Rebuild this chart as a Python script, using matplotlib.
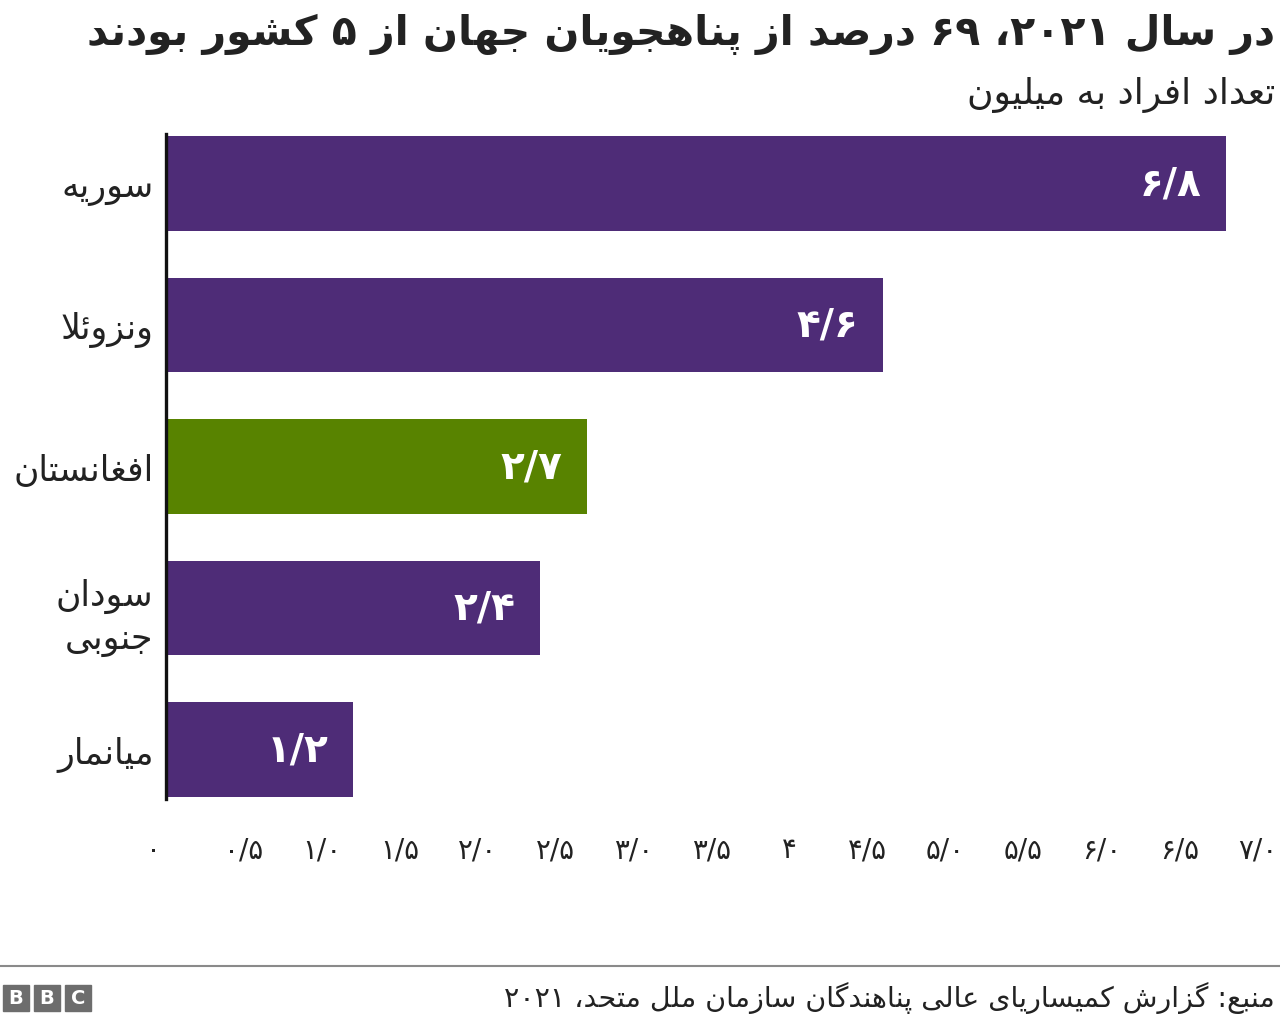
import re

import matplotlib
matplotlib.use('Agg')
import matplotlib.pyplot as plt
from matplotlib.lines import Line2D
from matplotlib.patches import Rectangle
from matplotlib.transforms import ScaledTranslation

# --- data -------------------------------------------------------------------
countries = ['سوریه', 'ونزوئلا', 'افغانستان', 'سودان\nجنوبی', 'میانمار']
refugees_m = [6.8, 4.6, 2.7, 2.4, 1.2]
value_labels = ['۶/۸', '۴/۶', '۲/۷', '۲/۴', '۱/۲']
highlight = 'افغانستان'

x_ticks = [0, 0.5, 1.0, 1.5, 2.0, 2.5, 3.0, 3.5, 4.0, 4.5, 5.0, 5.5, 6.0, 6.5, 7.0]
x_tick_labels = ['۰', '۰/۵', '۱/۰', '۱/۵', '۲/۰', '۲/۵', '۳/۰', '۳/۵', '۴',
                 '۴/۵', '۵/۰', '۵/۵', '۶/۰', '۶/۵', '۷/۰']

title = 'در سال ۲۰۲۱، ۶۹ درصد از پناهجویان جهان از ۵ کشور بودند'
subtitle = 'تعداد افراد به میلیون'
source = 'منبع: گزارش کمیساریای عالی پناهندگان سازمان ملل متحد، ۲۰۲۱'

PURPLE = '#4e2c77'
GREEN = '#588300'

# --- minimal Persian shaping (matplotlib has no bidi / joining support) ------
# isolated, final, initial, medial
FORMS = {
    'ا': (0xFE8D, 0xFE8E, None, None), 'آ': (0xFE81, 0xFE82, None, None),
    'ب': (0xFE8F, 0xFE90, 0xFE91, 0xFE92), 'پ': (0xFB56, 0xFB57, 0xFB58, 0xFB59),
    'ت': (0xFE95, 0xFE96, 0xFE97, 0xFE98), 'ث': (0xFE99, 0xFE9A, 0xFE9B, 0xFE9C),
    'ج': (0xFE9D, 0xFE9E, 0xFE9F, 0xFEA0), 'چ': (0xFB7A, 0xFB7B, 0xFB7C, 0xFB7D),
    'ح': (0xFEA1, 0xFEA2, 0xFEA3, 0xFEA4), 'خ': (0xFEA5, 0xFEA6, 0xFEA7, 0xFEA8),
    'د': (0xFEA9, 0xFEAA, None, None), 'ذ': (0xFEAB, 0xFEAC, None, None),
    'ر': (0xFEAD, 0xFEAE, None, None), 'ز': (0xFEAF, 0xFEB0, None, None),
    'ژ': (0xFB8A, 0xFB8B, None, None),
    'س': (0xFEB1, 0xFEB2, 0xFEB3, 0xFEB4), 'ش': (0xFEB5, 0xFEB6, 0xFEB7, 0xFEB8),
    'ص': (0xFEB9, 0xFEBA, 0xFEBB, 0xFEBC), 'ض': (0xFEBD, 0xFEBE, 0xFEBF, 0xFEC0),
    'ط': (0xFEC1, 0xFEC2, 0xFEC3, 0xFEC4), 'ظ': (0xFEC5, 0xFEC6, 0xFEC7, 0xFEC8),
    'ع': (0xFEC9, 0xFECA, 0xFECB, 0xFECC), 'غ': (0xFECD, 0xFECE, 0xFECF, 0xFED0),
    'ف': (0xFED1, 0xFED2, 0xFED3, 0xFED4), 'ق': (0xFED5, 0xFED6, 0xFED7, 0xFED8),
    'ک': (0xFB8E, 0xFB8F, 0xFB90, 0xFB91), 'گ': (0xFB92, 0xFB93, 0xFB94, 0xFB95),
    'ل': (0xFEDD, 0xFEDE, 0xFEDF, 0xFEE0), 'م': (0xFEE1, 0xFEE2, 0xFEE3, 0xFEE4),
    'ن': (0xFEE5, 0xFEE6, 0xFEE7, 0xFEE8), 'ه': (0xFEE9, 0xFEEA, 0xFEEB, 0xFEEC),
    'و': (0xFEED, 0xFEEE, None, None),
    'ی': (0xFBFC, 0xFBFD, 0xFBFE, 0xFBFF), 'ئ': (0xFE89, 0xFE8A, 0xFE8B, 0xFE8C),
}
LAM_ALEF = {'ا': (0xFEFB, 0xFEFC), 'آ': (0xFEF5, 0xFEF6)}
DIGITS = r'[0-9\u06F0-\u06F9]+(?:[/.][0-9\u06F0-\u06F9]+)*'


def shape(text):
    res, i, n = [], 0, len(text)
    while i < n:
        c = text[i]
        if c not in FORMS:
            res.append(c)
            i += 1
            continue
        prev = text[i - 1] if i > 0 else None
        prev_joins = prev in FORMS and FORMS[prev][2] is not None
        if c == 'ل' and i + 1 < n and text[i + 1] in LAM_ALEF:
            lig = LAM_ALEF[text[i + 1]]
            res.append(chr(lig[1] if prev_joins else lig[0]))
            i += 2
            continue
        nxt = text[i + 1] if i + 1 < n else None
        f = FORMS[c]
        joins_next = nxt in FORMS and f[2] is not None
        if prev_joins and joins_next:
            form = f[3]
        elif prev_joins:
            form = f[1]
        elif joins_next:
            form = f[2]
        else:
            form = f[0]
        res.append(chr(form))
        i += 1
    return ''.join(res)


def rtl(text):
    lines = []
    for line in text.split('\n'):
        parts = re.split('(' + DIGITS + ')', shape(line))
        out = [p if re.fullmatch(DIGITS, p) else p[::-1] for p in reversed(parts)]
        lines.append(''.join(out))
    return '\n'.join(lines)


# --- figure -----------------------------------------------------------------
plt.rcParams['font.family'] = ['DejaVu Sans']

fig = plt.figure(figsize=(12.8, 10.2), dpi=100)
ax = fig.add_axes([0.1297, 0.2157, 0.8648, 0.652])

y_pos = list(range(len(countries)))
colors = [GREEN if c == highlight else PURPLE for c in countries]
bars = ax.barh(y_pos, refugees_m, height=0.67, color=colors)

for bar, lab in zip(bars, value_labels):
    ax.text(bar.get_width() - 0.16, bar.get_y() + bar.get_height() / 2, lab,
            ha='right', va='center', color='white', fontsize=28, fontweight='bold')

ax.set_ylim(4.35, -0.35)
ax.set_xlim(0, 7.1)
ax.set_yticks(y_pos)
ax.set_yticklabels([rtl(c) for c in countries], fontsize=25, ha='right',
                   multialignment='right', color='#222222', linespacing=1.3)
ax.set_xticks(x_ticks)
ax.set_xticklabels(x_tick_labels, fontsize=20, color='#222222')
ax.tick_params(axis='both', length=0)
ax.tick_params(axis='x', pad=26)
ax.tick_params(axis='y', pad=9)

# the zero label sits a little left of the axis line in the original
zero_lab = ax.get_xticklabels()[0]
zero_lab.set_transform(zero_lab.get_transform()
                       + ScaledTranslation(-0.13, 0, fig.dpi_scale_trans))

for side in ['top', 'right', 'bottom']:
    ax.spines[side].set_visible(False)
ax.spines['left'].set_linewidth(2.4)
ax.spines['left'].set_color('#111111')

fig.text(0.996, 0.966, rtl(title), ha='right', va='center', fontsize=29.5,
         fontweight='bold', color='#222222')
fig.text(0.996, 0.907, rtl(subtitle), ha='right', va='center', fontsize=26,
         color='#222222')

# footer
fig.add_artist(Line2D([0, 1], [0.052, 0.052], color='#8a8a8a', linewidth=1.5))
fig.text(0.996, 0.022, rtl(source), ha='right', va='center', fontsize=20.5,
         color='#222222')
for k, letter in enumerate('BBC'):
    x0 = (3 + k * 31) / 1280
    fig.add_artist(Rectangle((x0, 0.008), 26 / 1280, 26 / 1020, color='#6d6d6d',
                             transform=fig.transFigure))
    fig.text(x0 + 13 / 1280, 0.008 + 13 / 1020, letter, ha='center', va='center',
             fontsize=14, fontweight='bold', color='white')

fig.savefig('out.png', dpi=100)
